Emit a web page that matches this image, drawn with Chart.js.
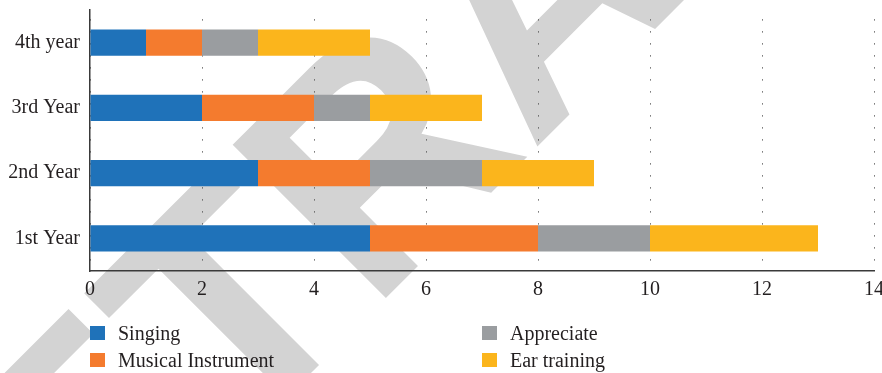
<!DOCTYPE html>
<html>
<head>
<meta charset="utf-8">
<script src="https://cdn.jsdelivr.net/npm/chart.js@4/dist/chart.umd.min.js"></script>
<style>
    html, body { margin: 0; padding: 0; background: #fff; overflow: hidden; }
    #contenedor { position: relative; width: 882px; height: 373px; overflow: hidden; }
    #miGrafica { position: absolute; left: 0; top: 0; }
    .legend-item {
        position: absolute; display: flex; align-items: center;
        font: 20px "Liberation Serif", serif; color: #231f20; line-height: 20px; white-space: nowrap;
    }
    .legend-color-box { width: 15px; height: 14px; margin-right: 13px; }
</style>
</head>
<body>
<div id="contenedor">
    <canvas id="miGrafica" width="882" height="373"></canvas>
    <div id="custom-legend"></div>
</div>
<script>
// Datos (de arriba a abajo)
const categorias = ['4th year', '3rd Year', '2nd Year', '1st Year'];
const singing = [1, 2, 3, 5];
const musicalInstrument = [1, 2, 2, 3];
const appreciate = [1, 1, 2, 2];
const earTraining = [2, 2, 2, 3];

const nombresSeries = ['Singing', 'Musical Instrument', 'Appreciate', 'Ear training'];
const coloresSeries = ['#1f72b9', '#f47b2e', '#9a9da0', '#fbb51c'];
const valoresSeries = [singing, musicalInstrument, appreciate, earTraining];

const ejeX = { min: 0, max: 14, paso: 2 };

Chart.defaults.font.family = '"Liberation Serif", serif';
Chart.defaults.font.size = 20;
Chart.defaults.color = '#231f20';

// Marca de agua gris en diagonal, detrás de la gráfica
const marcaAgua = {
    id: 'marcaAgua',
    beforeDraw(chart) {
        const c = chart.ctx;
        const ang = -Math.PI / 4;
        c.save();
        c.font = 'bold 315px "Liberation Sans", sans-serif';
        c.fillStyle = '#d3d3d3';
        c.textBaseline = 'alphabetic';
        const w = c.measureText('RET').width;
        // origen de la segunda "R"
        c.translate(371 - w * Math.cos(ang), 313 - w * Math.sin(ang));
        c.rotate(ang);
        c.fillText('RETRACTED', 0, 0);
        c.restore();
    }
};

const datasets = valoresSeries.map((valores, i) => ({
    label: nombresSeries[i],
    data: valores,
    backgroundColor: coloresSeries[i],
    borderWidth: 0,
    barPercentage: 0.4,
    categoryPercentage: 1
}));

const ctx = document.getElementById('miGrafica').getContext('2d');
const miGrafica = new Chart(ctx, {
    type: 'bar',
    data: { labels: categorias, datasets },
    plugins: [marcaAgua],
    options: {
        indexAxis: 'y',
        responsive: false,
        animation: false,
        layout: { padding: { top: 10, right: 8, bottom: 72, left: 0 } },
        plugins: { legend: { display: false }, tooltip: { enabled: false } },
        scales: {
            x: {
                stacked: true,
                min: ejeX.min,
                max: ejeX.max,
                ticks: { stepSize: ejeX.paso, padding: 7, maxRotation: 0 },
                grid: { color: '#4a4a4a', lineWidth: 1, drawTicks: false },
                border: { color: '#3a3a3a', width: 1.5, dash: [1.2, 10.8], dashOffset: 2.7 },
                afterFit: (escala) => {
                    escala.height = 30;
                    escala.paddingLeft = 0;
                    escala.paddingRight = 0;
                }
            },
            y: {
                stacked: true,
                ticks: { padding: 10 },
                grid: { display: false, drawTicks: false },
                border: { color: '#3a3a3a', width: 1.5 },
                afterFit: (escala) => {
                    escala.width = 90;
                    escala.paddingTop = 0;
                    escala.paddingBottom = 0;
                }
            }
        }
    }
});

// Leyenda en dos columnas, como en la figura
function generarLeyendaHTML() {
    const contenedor = document.getElementById('custom-legend');
    nombresSeries.forEach((nombre, i) => {
        const item = document.createElement('div');
        item.className = 'legend-item';
        item.style.left = (i < 2 ? 90 : 482) + 'px';
        item.style.top = (323 + (i % 2) * 27) + 'px';
        item.innerHTML = `<span class="legend-color-box" style="background-color: ${coloresSeries[i]}"></span><span>${nombre}</span>`;
        contenedor.appendChild(item);
    });
}
generarLeyendaHTML();
</script>
</body>
</html>
